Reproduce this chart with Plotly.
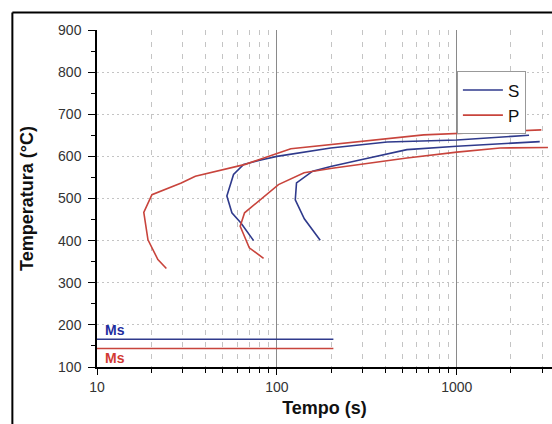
import plotly.graph_objects as go

# ---- data ----
p_start_t = [24.3, 21.8, 19.2, 18.2, 20.2, 29.4, 35.2, 66.7, 81.5, 119.5, 654, 2950]
p_start_T = [334, 355, 402, 467, 509, 537, 553, 581, 594, 618, 651, 663]

s_start_t = [74.2, 63.1, 56.2, 52.7, 57.4, 65.3, 82.6, 100, 199, 410, 1000, 2520]
s_start_T = [400, 442, 466, 506, 557, 581, 592, 600, 620, 634, 639, 650]

p_end_t = [84.3, 70.2, 62.5, 66.1, 102, 141.6, 203, 528, 1000, 1740, 3210]
p_end_T = [358, 383, 434, 466, 533, 561, 572, 596, 610, 620, 621]

s_end_t = [174, 142, 126.5, 128.5, 158, 199, 293, 528, 1000, 2890]
s_end_T = [401, 452, 497, 537, 565, 576, 592, 616, 624, 635]

ms_t = [10, 206]
ms_s = 166
ms_p = 144

x_major = [10, 100, 1000]
x_minor = [20, 30, 40, 50, 60, 70, 80, 90, 200, 300, 400, 500, 600, 700, 800, 900,
           2000, 3000, 4000, 5000]
y_ticks = [100, 200, 300, 400, 500, 600, 700, 800, 900]
y_grid = [200, 300, 400, 500, 600, 700, 800]

BLUE = "#2f3a8c"
RED = "#c8443c"
FONT = "Liberation Sans, Arial, sans-serif"

fig = go.Figure()

def add(t, T, color, name, show):
    fig.add_trace(go.Scatter(x=t, y=T, mode="lines", name=name, legendgroup=name,
                             showlegend=show, line=dict(color=color, width=1.6)))

add(s_start_t, s_start_T, BLUE, "S", True)
add(p_start_t, p_start_T, RED, "P", True)
add(s_end_t, s_end_T, BLUE, "S", False)
add(p_end_t, p_end_T, RED, "P", False)
add(ms_t, [ms_s, ms_s], BLUE, "S", False)
add(ms_t, [ms_p, ms_p], RED, "P", False)

fig.add_annotation(x=1.1, y=188, xref="x", yref="y", text="<b>Ms</b>", showarrow=False,
                   font=dict(family=FONT, size=14, color="#1f2d9e"))
fig.add_annotation(x=1.1, y=122, xref="x", yref="y", text="<b>Ms</b>", showarrow=False,
                   font=dict(family=FONT, size=14, color="#d23a32"))

# outer frame (left and top edges visible)
fig.add_shape(type="line", xref="paper", yref="paper", x0=-0.186, x1=1.05, y0=1.0518, y1=1.0518,
              line=dict(color="black", width=2))
fig.add_shape(type="line", xref="paper", yref="paper", x0=-0.186, x1=-0.186, y0=1.0518, y1=-0.25,
              line=dict(color="black", width=2))

fig.update_layout(
    width=552, height=424,
    margin=dict(l=97, r=0, t=30, b=57),
    paper_bgcolor="white", plot_bgcolor="white",
    font=dict(family=FONT, size=13, color="#333"),
    showlegend=True,
    legend=dict(x=0.791, y=0.877, xanchor="left", yanchor="top",
                bordercolor="#999", borderwidth=1, bgcolor="white",
                font=dict(family=FONT, size=17, color="#111"),
                tracegroupgap=0, itemwidth=40),
    xaxis=dict(type="log", range=[1, 3.529],
               tickvals=x_major, ticktext=[str(v) for v in x_major],
               ticks="outside", ticklen=6, tickcolor="black", tickwidth=1.2,
               showline=True, linecolor="black", linewidth=1.5,
               showgrid=True, gridcolor="#8a8a8a", gridwidth=1,
               zeroline=False,
               tickfont=dict(size=14, color="#333"),
               title=dict(text="<b>Tempo (s)</b>", font=dict(size=18, color="#111"), standoff=8),
               minor=dict(tickvals=x_minor, ticks="outside", ticklen=4, tickcolor="black",
                          showgrid=True, gridcolor="#c4c4c4", griddash="5px,7px", gridwidth=1)),
    yaxis=dict(range=[100, 900], tickvals=y_ticks,
               ticks="outside", ticklen=7, tickcolor="black", tickwidth=1.2,
               showline=True, linecolor="black", linewidth=1.5,
               showgrid=False, zeroline=False,
               tickfont=dict(size=14, color="#333"),
               ticklabelstandoff=4,
               title=dict(text="<b>Temperatura (°C)</b>", font=dict(size=18, color="#111"), standoff=20),
               minor=dict(dtick=50, ticks="outside", ticklen=4, tickcolor="black", showgrid=False)),
    yaxis2=dict(range=[100, 900], overlaying="y", side="left", tickvals=y_grid,
                showticklabels=False, ticks="", showline=False, zeroline=False,
                showgrid=True, gridcolor="#c4c4c4", griddash="2px,3px", gridwidth=1),
)

# invisible helper trace so the grid-only axis is rendered
fig.add_trace(go.Scatter(x=[10], y=[100], yaxis="y2", mode="markers",
                         marker=dict(opacity=0), showlegend=False, hoverinfo="skip"))

fig.write_html("out.html")
